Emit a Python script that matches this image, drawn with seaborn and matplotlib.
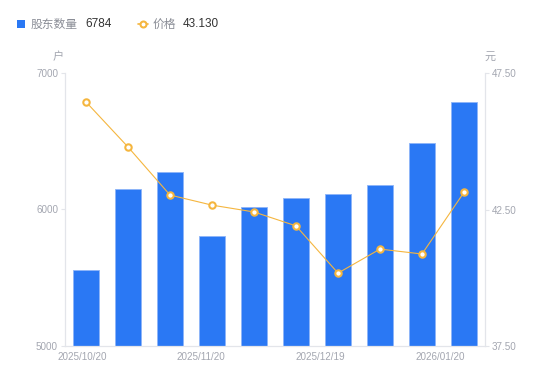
import matplotlib
matplotlib.use("Agg")
import matplotlib.pyplot as plt
from matplotlib.patches import Rectangle
from matplotlib.lines import Line2D
import seaborn as sns
import pandas as pd

dates = ["2025/10/20", "2025/10/31", "2025/11/10", "2025/11/20", "2025/11/28",
         "2025/12/10", "2025/12/19", "2025/12/31", "2026/01/09", "2026/01/20"]
holders = [5557, 6150, 6275, 5806, 6018, 6084, 6114, 6179, 6487, 6784]
price = [46.44, 44.79, 43.03, 42.66, 42.41, 41.90, 40.17, 41.05, 40.87, 43.13]
shown_ticks = [0, 3, 6, 9]

bar_color = "#2a78f4"
line_color = "#f5b63f"
tick_color = "#a3a6b0"
axis_color = "#e3e5ea"

sns.set_theme(style="white")
plt.rcParams['font.family'] = ['Liberation Sans', 'Noto Sans CJK SC']
cjk = ['Noto Sans CJK SC', 'Liberation Sans']

df = pd.DataFrame({"date": dates, "holders": holders, "price": price})

fig = plt.figure(figsize=(5.5, 3.81), dpi=100)
ax = fig.add_axes([65/550, 35/381, 420/550, 273/381])

sns.barplot(data=df, x="date", y="holders", color=bar_color, width=0.62,
            saturation=1, ax=ax, edgecolor="#8db5f8", linewidth=0.6)
ax.set_ylim(5000, 7000)
ax.set_xlim(-0.5, 9.5)
ax.set_yticks([5000, 6000, 7000])
ax.set_xlabel("")
ax.set_ylabel("")

ax2 = ax.twinx()
sns.lineplot(x=list(range(len(price))), y=price, ax=ax2, color=line_color,
             linewidth=0.8, marker="o", markersize=4.6, markerfacecolor="white",
             markeredgecolor=line_color, markeredgewidth=1.5)
ax2.set_ylim(37.5, 47.5)
ax2.set_yticks([37.5, 42.5, 47.5])
ax2.set_yticklabels(["37.50", "42.50", "47.50"])
ax2.set_xlim(-0.5, 9.5)

# x labels, spread like the reference
tick_pos = [-0.1, 2.74, 5.57, 8.43]
ax.set_xticks(tick_pos)
ax.set_xticklabels([dates[i] for i in shown_ticks])

for a in (ax, ax2):
    for s in a.spines.values():
        s.set_visible(False)
    a.tick_params(colors=tick_color, labelsize=7.1, length=3, width=0.8,
                  color=axis_color, pad=2)
ax.spines["left"].set_visible(True)
ax.spines["bottom"].set_visible(True)
ax2.spines["right"].set_visible(True)
for s in (ax.spines["left"], ax.spines["bottom"], ax2.spines["right"]):
    s.set_color(axis_color)
    s.set_linewidth(0.9)
ax.tick_params(axis="x", length=0, pad=4)
ax.tick_params(axis="y", left=True)
ax2.tick_params(axis="y", right=True)

# unit labels
fig.text(58/550, 1 - 57/381, "户", color=tick_color, fontsize=8, ha="center", va="center", family=cjk)
fig.text(490/550, 1 - 57/381, "元", color=tick_color, fontsize=8, ha="center", va="center", family=cjk)

# legend
fig.add_artist(Rectangle((17/550, 1 - 28/381), 8/550, 8/381, transform=fig.transFigure,
                         color=bar_color, linewidth=0))
fig.text(31/550, 1 - 24/381, "股东数量", color="#8a8d96", fontsize=8.5, va="center", family=cjk)
fig.text(85/550, 1 - 24/381, "6784", color="#333333", fontsize=8.5, va="center")
fig.add_artist(Line2D([138/550, 148/550], [1 - 24/381, 1 - 24/381], transform=fig.transFigure,
                      color=line_color, linewidth=1.2))
fig.add_artist(Line2D([143/550], [1 - 24/381], transform=fig.transFigure,
                      color=line_color, marker="o", markersize=4.3,
                      markerfacecolor="white", markeredgewidth=1.5))
fig.text(153/550, 1 - 24/381, "价格", color="#8a8d96", fontsize=8.5, va="center", family=cjk)
fig.text(183/550, 1 - 24/381, "43.130", color="#333333", fontsize=8.5, va="center")

fig.savefig("out.png", dpi=100)
